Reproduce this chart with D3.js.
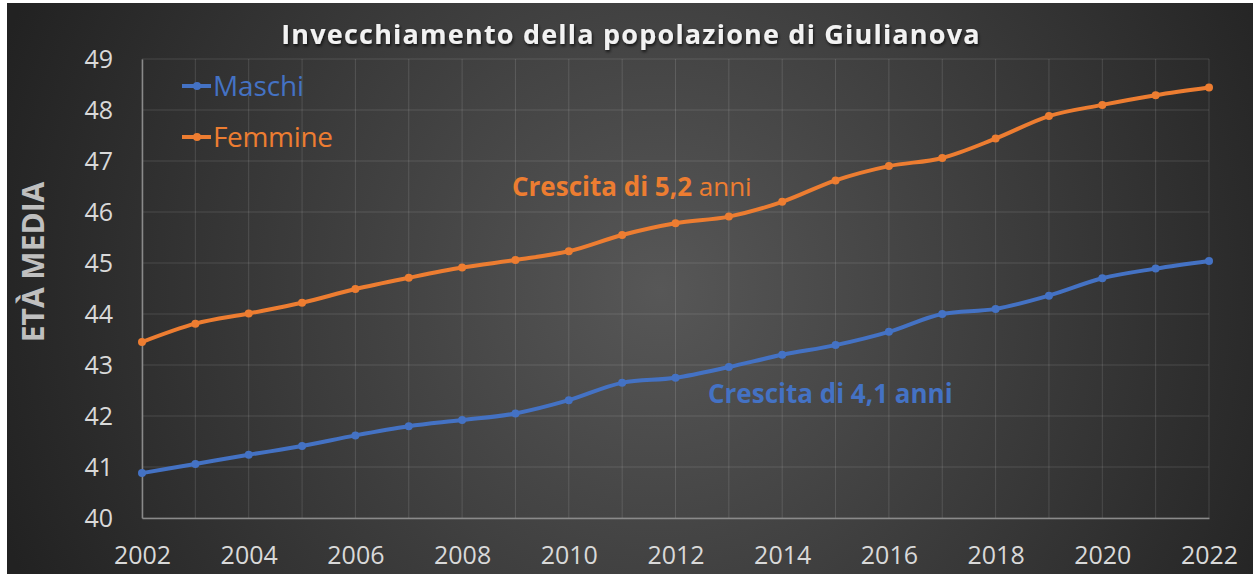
<!DOCTYPE html>
<html>
<head>
<meta charset="utf-8">
<script src="https://cdn.jsdelivr.net/npm/d3@7"></script>
<style>
  html, body { margin: 0; padding: 0; background: #fff; }
  svg { display: block; }
</style>
</head>
<body>
<div id="chart"></div>
<script>
// Età media per anno
const years = d3.range(2002, 2023);
const maschi = [40.88, 41.06, 41.24, 41.41, 41.62, 41.80, 41.92, 42.05, 42.31, 42.65, 42.75,
                42.96, 43.20, 43.39, 43.65, 44.00, 44.10, 44.36, 44.70, 44.89, 45.04];
const femmine = [43.45, 43.81, 44.01, 44.22, 44.49, 44.71, 44.91, 45.06, 45.23, 45.55, 45.78,
                 45.91, 46.20, 46.62, 46.90, 47.06, 47.44, 47.88, 48.10, 48.29, 48.44];
const yTicks = d3.range(40, 50);
const xTicks = d3.range(2002, 2023, 2);

const width = 1253, height = 574;
const margin = { top: 59, right: 44, bottom: 56, left: 142 };
const innerW = width - margin.left - margin.right;
const innerH = height - margin.top - margin.bottom;

const font = "'Open Sans', 'Noto Sans', sans-serif";
const blue = '#4472c4';
const orange = '#ed7d31';
const labelGrey = '#d9d9d9';

const svg = d3.select('#chart')
  .append('svg')
  .attr('width', width)
  .attr('height', height);

const defs = svg.append('defs');
const grad = defs.append('radialGradient')
  .attr('id', 'bg')
  .attr('gradientUnits', 'userSpaceOnUse')
  .attr('cx', 660).attr('cy', 290).attr('r', 700);
grad.append('stop').attr('offset', '0%').attr('stop-color', '#575757');
grad.append('stop').attr('offset', '100%').attr('stop-color', '#222222');

const shadow = defs.append('filter').attr('id', 'shadow')
  .attr('x', '-5%').attr('y', '-20%').attr('width', '110%').attr('height', '140%');
shadow.append('feDropShadow')
  .attr('dx', 1).attr('dy', 2).attr('stdDeviation', 1.5)
  .attr('flood-color', '#000').attr('flood-opacity', 0.7);

// sfondo
svg.append('rect')
  .attr('x', 7).attr('y', 3)
  .attr('width', width - 7).attr('height', height - 3)
  .attr('fill', 'url(#bg)');

const g = svg.append('g')
  .attr('transform', `translate(${margin.left},${margin.top})`);

const x = d3.scaleLinear().domain([2002, 2022]).range([0, innerW]);
const y = d3.scaleLinear().domain([40, 49]).range([innerH, 0]);

// griglia
g.append('g')
  .selectAll('line')
  .data(yTicks)
  .enter().append('line')
  .attr('x1', 0).attr('x2', innerW)
  .attr('y1', d => y(d)).attr('y2', d => y(d))
  .attr('stroke', '#ffffff').attr('stroke-opacity', 0.13).attr('stroke-width', 1);

g.append('g')
  .selectAll('line')
  .data(years)
  .enter().append('line')
  .attr('x1', d => x(d)).attr('x2', d => x(d))
  .attr('y1', 0).attr('y2', innerH)
  .attr('stroke', '#ffffff').attr('stroke-opacity', 0.13).attr('stroke-width', 1);

// assi
const xAxis = g.append('g')
  .attr('transform', `translate(0,${innerH})`)
  .call(d3.axisBottom(x).tickValues(xTicks).tickFormat(d3.format('d')).tickSize(0).tickPadding(28));
xAxis.select('.domain').attr('stroke', '#8a8a8a').attr('stroke-width', 1.5);
xAxis.selectAll('text')
  .attr('fill', labelGrey).attr('font-size', '25px').attr('font-family', font);

const yAxis = g.append('g')
  .call(d3.axisLeft(y).tickValues(yTicks).tickSize(0).tickPadding(29));
yAxis.select('.domain').attr('stroke', '#8a8a8a').attr('stroke-width', 1.5);
yAxis.selectAll('text')
  .attr('fill', labelGrey).attr('font-size', '25px').attr('font-family', font);

// serie
const series = [
  { name: 'Maschi', values: maschi, color: blue },
  { name: 'Femmine', values: femmine, color: orange }
];

const line = d3.line()
  .x((d, i) => x(years[i]))
  .y(d => y(d))
  .curve(d3.curveMonotoneX);

series.forEach(s => {
  g.append('path')
    .datum(s.values)
    .attr('d', line)
    .attr('fill', 'none')
    .attr('stroke', s.color)
    .attr('stroke-width', 4)
    .attr('stroke-linejoin', 'round');

  g.append('g')
    .selectAll('circle')
    .data(s.values)
    .enter().append('circle')
    .attr('cx', (d, i) => x(years[i]))
    .attr('cy', d => y(d))
    .attr('r', 4)
    .attr('fill', s.color);
});

// legenda
const legend = svg.append('g').attr('transform', 'translate(182,86)');
series.forEach((s, i) => {
  const row = legend.append('g').attr('transform', `translate(0,${i * 51})`);
  row.append('line')
    .attr('x1', 0).attr('x2', 29).attr('y1', 0).attr('y2', 0)
    .attr('stroke', s.color).attr('stroke-width', 4);
  row.append('circle').attr('cx', 15).attr('cy', 0).attr('r', 4).attr('fill', s.color);
  row.append('text')
    .attr('x', 31).attr('y', 0).attr('dy', '0.35em')
    .attr('fill', s.color).attr('font-size', '28px').attr('font-family', font)
    .attr('textLength', i === 0 ? 91 : 120)
    .text(s.name);
});

// titolo
svg.append('text')
  .attr('x', 631).attr('y', 44)
  .attr('text-anchor', 'middle')
  .attr('fill', '#f2f2f2')
  .attr('font-size', '27px')
  .attr('font-weight', 'bold')
  .attr('letter-spacing', '1.2px')
  .attr('font-family', font)
  .attr('filter', 'url(#shadow)')
  .text('Invecchiamento della popolazione di Giulianova');

// titolo asse y
svg.append('text')
  .attr('transform', 'translate(44,262) rotate(-90)')
  .attr('text-anchor', 'middle')
  .attr('fill', '#bfbfbf')
  .attr('font-size', '30px')
  .attr('font-weight', 'bold')
  .attr('font-family', font)
  .text('ETÀ MEDIA');

// annotazioni
const annF = svg.append('text')
  .attr('x', 512).attr('y', 196)
  .attr('fill', orange).attr('font-size', '26px').attr('font-family', font);
annF.append('tspan').attr('font-weight', 'bold').text('Crescita di 5,2');
annF.append('tspan').text(' anni');

svg.append('text')
  .attr('x', 708).attr('y', 403)
  .attr('fill', blue).attr('font-size', '26px').attr('font-weight', 'bold').attr('font-family', font)
  .text('Crescita di 4,1 anni');
</script>
</body>
</html>
